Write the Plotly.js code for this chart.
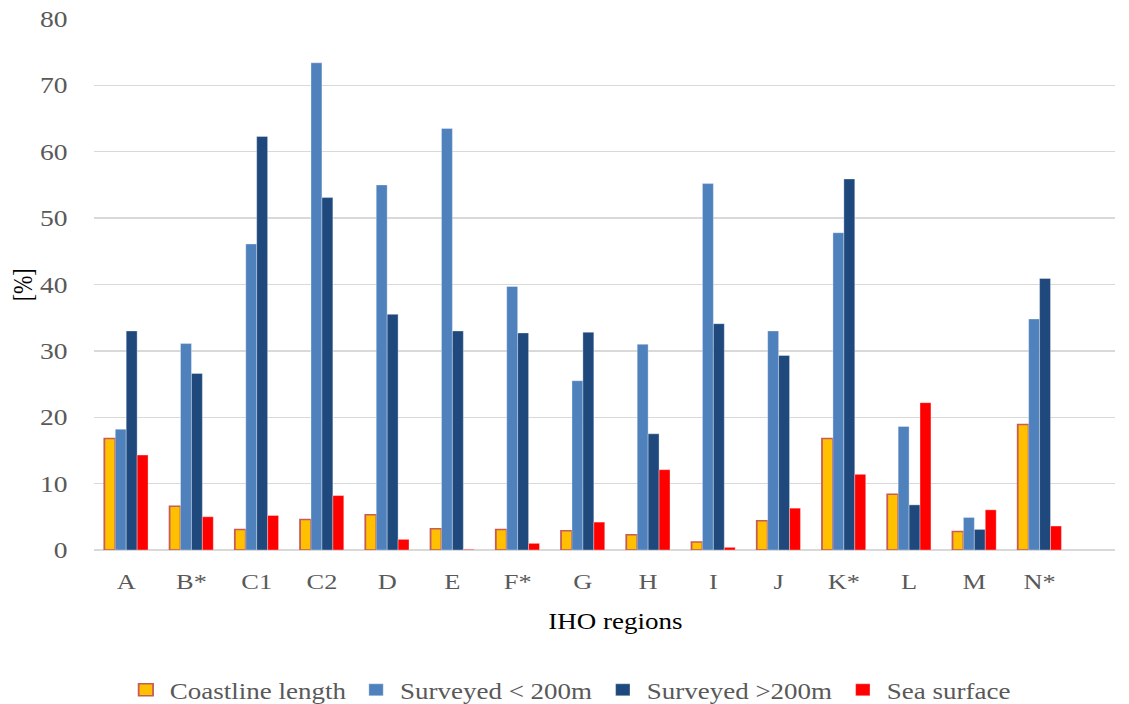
<!DOCTYPE html>
<html>
<head>
<meta charset="utf-8">
<script src="https://cdn.plot.ly/plotly-3.0.1.min.js"></script>
<style>
html,body{margin:0;padding:0;background:#fff;overflow:hidden;}
#chart{width:941px;height:704px;transform:scaleX(1.19979);transform-origin:0 0;}
</style>
</head>
<body>
<div id="chart"></div>
<script>
const regions = ['A','B*','C1','C2','D','E','F*','G','H','I','J','K*','L','M','N*'];
const coastline = [16.8, 6.6, 3.1, 4.6, 5.3, 3.2, 3.1, 2.9, 2.3, 1.2, 4.4, 16.8, 8.4, 2.8, 18.9];
const surveyedBelow200 = [18.2, 31.1, 46.1, 73.4, 55.0, 63.5, 39.7, 25.5, 31.0, 55.2, 33.0, 47.8, 18.6, 4.9, 34.8];
const surveyedAbove200 = [33.0, 26.6, 62.3, 53.1, 35.5, 33.0, 32.7, 32.8, 17.5, 34.1, 29.3, 55.9, 6.8, 3.1, 40.9];
const seaSurface = [14.3, 5.0, 5.2, 8.2, 1.6, 0.1, 1.0, 4.2, 12.1, 0.4, 6.3, 11.4, 22.2, 6.05, 3.6];
const seriesNames = ['Coastline length', 'Surveyed < 200m', 'Surveyed >200m', 'Sea surface'];
const yTicks = [0,10,20,30,40,50,60,70,80];

const serif = 'Liberation Serif';
const thin = {color:'rgba(255,255,255,0.5)', width:0.6};
const traces = [
  {type:'bar', name:seriesNames[0], x:regions, y:coastline, marker:{color:'#FFC000', line:{color:'#C65B58', width:1.5}}},
  {type:'bar', name:seriesNames[1], x:regions, y:surveyedBelow200, marker:{color:'#4F81BD', line:thin}},
  {type:'bar', name:seriesNames[2], x:regions, y:surveyedAbove200, marker:{color:'#1F497D', line:thin}},
  {type:'bar', name:seriesNames[3], x:regions, y:seaSurface, marker:{color:'#FF0000', line:thin}}
];

const layout = {
  width:941, height:704,
  margin:{l:77.5, r:11.7, t:19, b:154, autoexpand:false},
  paper_bgcolor:'#fff', plot_bgcolor:'#fff',
  barmode:'group', bargap:0.33, bargroupgap:0,
  font:{family:serif, color:'#595959', size:22},
  showlegend:true,
  hovermode:false,
  xaxis:{
    type:'category', range:[-0.5, 15.15], automargin:false,
    showgrid:false, zeroline:false, showline:false,
    ticks:'outside', ticklen:12, tickcolor:'rgba(0,0,0,0)',
    tickfont:{family:serif, size:22, color:'#595959'}
  },
  yaxis:{
    range:[0,80], tickvals:yTicks, ticktext:yTicks.map(String), automargin:false,
    showgrid:true, gridcolor:'#D9D9D9', gridwidth:1.3,
    zeroline:true, zerolinecolor:'#D9D9D9', zerolinewidth:1.3,
    showline:false,
    ticks:'outside', ticklen:16, tickcolor:'rgba(0,0,0,0)',
    tickfont:{family:serif, size:23, color:'#595959'}
  },
  annotations:[
    {text:'IHO regions', xref:'paper', yref:'paper', x:0.511, y:-0.134,
     xanchor:'center', yanchor:'middle', showarrow:false,
     font:{family:serif, size:22.5, color:'#000'}},
    {text:'[%]', xref:'paper', yref:'paper', x:-0.0695, y:0.5, textangle:-90,
     xanchor:'center', yanchor:'middle', showarrow:false,
     font:{family:serif, size:22, color:'#000'}}
  ],
  legend:{
    orientation:'h', x:0.466, xanchor:'center', y:-0.264, yanchor:'middle',
    font:{family:serif, size:22.5, color:'#595959'},
    itemwidth:30, traceorder:'normal'
  }
};

Plotly.newPlot('chart', traces, layout, {displayModeBar:false, staticPlot:true});
</script>
</body>
</html>
